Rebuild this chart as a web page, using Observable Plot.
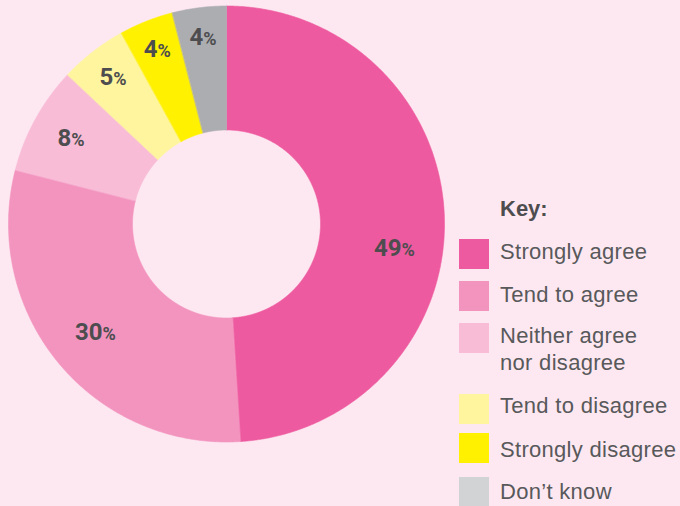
<!DOCTYPE html>
<html><head><meta charset="utf-8">
<script src="https://cdn.jsdelivr.net/npm/d3@7"></script>
<script src="https://cdn.jsdelivr.net/npm/@observablehq/plot@0.6"></script>
<style>
html,body{margin:0;padding:0;background:#fde8f1;}
#wrap{position:relative;width:680px;height:506px;overflow:hidden;background:#fde8f1;font-family:"Liberation Sans",Arial,sans-serif;color:#58595b;}
#wrap svg{position:absolute;left:0;top:0;}
.key-title{position:absolute;left:500px;font-weight:bold;font-size:22px;line-height:27px;color:#4d4d4f;}
.row-sw{position:absolute;left:459px;width:30px;height:30px;}
.row-tx{position:absolute;left:500px;font-size:22px;line-height:27px;white-space:nowrap;letter-spacing:0.3px;}
</style></head><body><div id="wrap"></div>
<script>
const categories = ["Strongly agree", "Tend to agree", "Neither agree nor disagree", "Tend to disagree", "Strongly disagree", "Don’t know"];
const keyLines = [["Strongly agree"], ["Tend to agree"], ["Neither agree", "nor disagree"], ["Tend to disagree"], ["Strongly disagree"], ["Don’t know"]];
const values = [49, 30, 8, 5, 4, 4];
const valueLabels = ["49%", "30%", "8%", "5%", "4%", "4%"];
const keyTitle = "Key:";

// styles
const sliceColors = ["#ee5a9f", "#f394bf", "#f8bcd7", "#fff59e", "#fff100", "#acadb1"];
const keyColors = ["#ee5a9f", "#f394bf", "#f8bcd7", "#fff59e", "#fff100", "#d1d3d4"];
const innerFrac = 94 / 218;
const labelFrac = v => Math.max(0.78, 0.91 - 0.012 * v);

const arcs = d3.pie().sort(null).value(d => d)(values);
const pts = [];
arcs.forEach((p, i) => {
  const n = Math.max(4, Math.ceil((p.endAngle - p.startAngle) / 0.005));
  for (let k = 0; k <= n; k++) {
    const a = p.startAngle + (p.endAngle - p.startAngle) * k / n;
    pts.push({i, x: Math.sin(a), y: Math.cos(a)});
  }
  for (let k = n; k >= 0; k--) {
    const a = p.startAngle + (p.endAngle - p.startAngle) * k / n;
    pts.push({i, x: innerFrac * Math.sin(a), y: innerFrac * Math.cos(a)});
  }
});
const labs = arcs.map((p, i) => {
  const a = (p.startAngle + p.endAngle) / 2;
  const r = labelFrac(values[i]);
  return {i, label: valueLabels[i], x: r * Math.sin(a), y: r * Math.cos(a)};
});

const textStyle = {x: "x", y: "y", text: "label", fill: "#4d4d4f", fontSize: 24, fontWeight: "bold", fontFamily: "Roboto, sans-serif", textAnchor: "middle", lineAnchor: "middle", className: "pct"};
const chart = Plot.plot({
  width: 680, height: 506,
  marginLeft: 8, marginRight: 236, marginTop: 5.5, marginBottom: 64.5,
  x: {domain: [-1, 1], axis: null},
  y: {domain: [-1, 1], axis: null},
  color: {domain: categories, range: sliceColors},
  style: {background: "transparent", overflow: "visible"},
  marks: [
    Plot.line(pts, {x: "x", y: "y", z: "i", fill: d => categories[d.i], stroke: d => categories[d.i], strokeWidth: 0.6, curve: "linear-closed"}),
    Plot.text(labs.filter(d => d.i !== 0), textStyle),
    Plot.text(labs.filter(d => d.i === 0), {...textStyle, dy: 30, dx: -2})
  ]
});
const wrap = document.getElementById("wrap");
wrap.appendChild(chart);
// smaller percent sign
chart.querySelectorAll(".pct text").forEach(t => {
  const s = t.textContent;
  if (s.endsWith("%")) {
    t.textContent = s.slice(0, -1);
    const ts = document.createElementNS("http://www.w3.org/2000/svg", "tspan");
    ts.setAttribute("font-size", "18");
    ts.textContent = "%";
    t.appendChild(ts);
  }
});

// key
const kt = document.createElement("div");
kt.className = "key-title"; kt.style.top = "195px"; kt.textContent = keyTitle;
wrap.appendChild(kt);
const swTops = [239, 281, 323, 394, 433, 477];
const txTops = [238, 281, 322, 392, 436, 478];
categories.forEach((c, i) => {
  const sw = document.createElement("div");
  sw.className = "row-sw"; sw.style.top = swTops[i] + "px"; sw.style.background = keyColors[i];
  wrap.appendChild(sw);
  const tx = document.createElement("div");
  tx.className = "row-tx"; tx.style.top = txTops[i] + "px";
  tx.innerHTML = keyLines[i].join("<br>");
  wrap.appendChild(tx);
});
</script>
</body></html>
